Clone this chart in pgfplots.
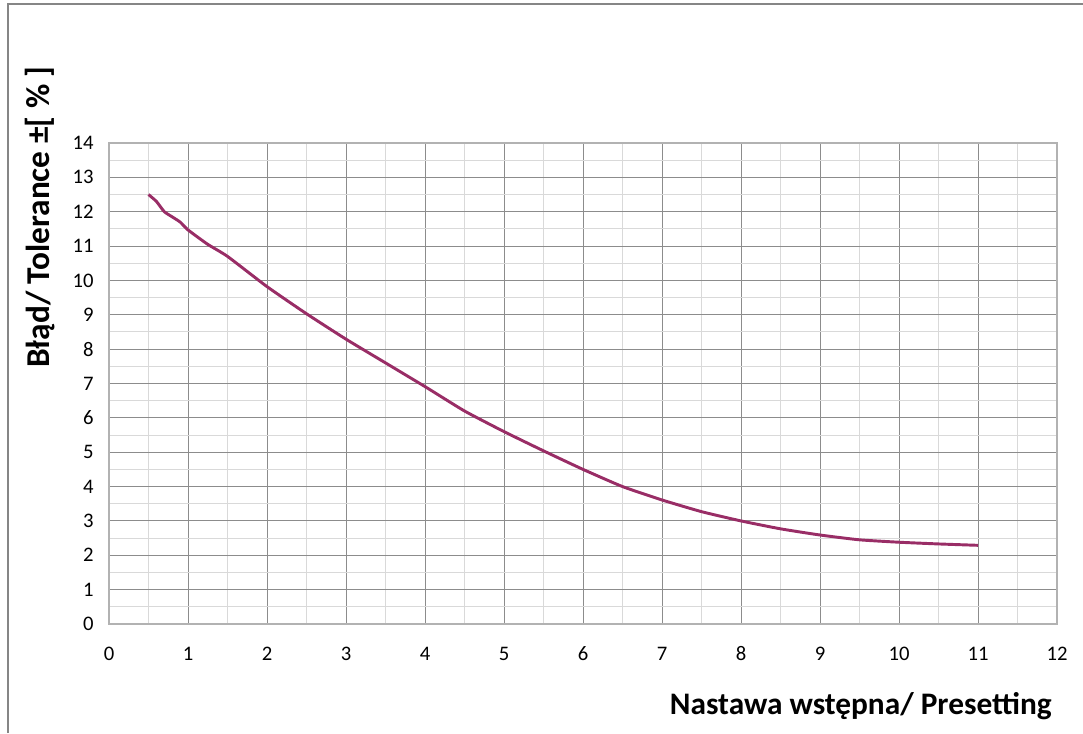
\documentclass[border=0pt]{standalone}
\usepackage{pgfplots}
\pgfplotsset{compat=1.18}
\usepackage{fontspec}
\setmainfont{Carlito}
\definecolor{curve}{RGB}{153,45,102}
\definecolor{majgrid}{RGB}{140,140,140}
\definecolor{mingrid}{RGB}{217,217,217}
\definecolor{frame}{RGB}{134,134,134}
\begin{document}
\begin{tikzpicture}[x=0.75pt,y=0.75pt]
\useasboundingbox (0,0) rectangle (1083,733);
\draw[frame,line width=1.1pt] (8,0) -- (8,729) -- (1083,729);
\begin{axis}[
  at={(81.75pt,81.75pt)}, anchor=south west,
  scale only axis, width=711pt, height=360.75pt,
  xmin=0, xmax=12, ymin=0, ymax=14,
  xtick={0,...,12}, ytick={0,...,14},
  minor tick num=1,
  grid=both,
  major grid style={majgrid, line width=0.7pt},
  minor grid style={mingrid, line width=0.8pt},
  axis line style={mingrid!50!majgrid, line width=1pt},
  tick style={draw=none},
  /pgf/number format/assume math mode=true,
  ticklabel style={font=\fontsize{15.5}{17}\selectfont},
  xticklabel style={anchor=base, yshift=-27.5pt},
  yticklabel style={xshift=-8pt},
]
\addplot[curve, line width=2.2pt, smooth, tension=0.3, mark=none] coordinates {
(0.5,12.5)(0.6,12.3)(0.7,12.0)(0.8,11.85)(0.9,11.7)(1,11.47)(1.25,11.05)(1.5,10.7)
(2,9.82)(2.5,9.03)(3,8.29)(3.5,7.6)(4,6.91)(4.5,6.2)(5,5.6)(5.5,5.04)(6,4.5)
(6.5,4.0)(7,3.61)(7.5,3.27)(8,3.0)(8.5,2.77)(9,2.59)(9.5,2.45)(10,2.38)(10.5,2.33)(11,2.29)
};
\end{axis}
\node[anchor=east, font=\bfseries\fontsize{23.5}{28}\selectfont, inner sep=0pt] at (1052,27) {Nastawa wstępna/ Presetting};
\node[rotate=90, font=\bfseries\fontsize{25}{30}\selectfont, inner sep=0pt] at (40,516) {Błąd/ Tolerance ±[ \% ]};
\end{tikzpicture}
\end{document}
